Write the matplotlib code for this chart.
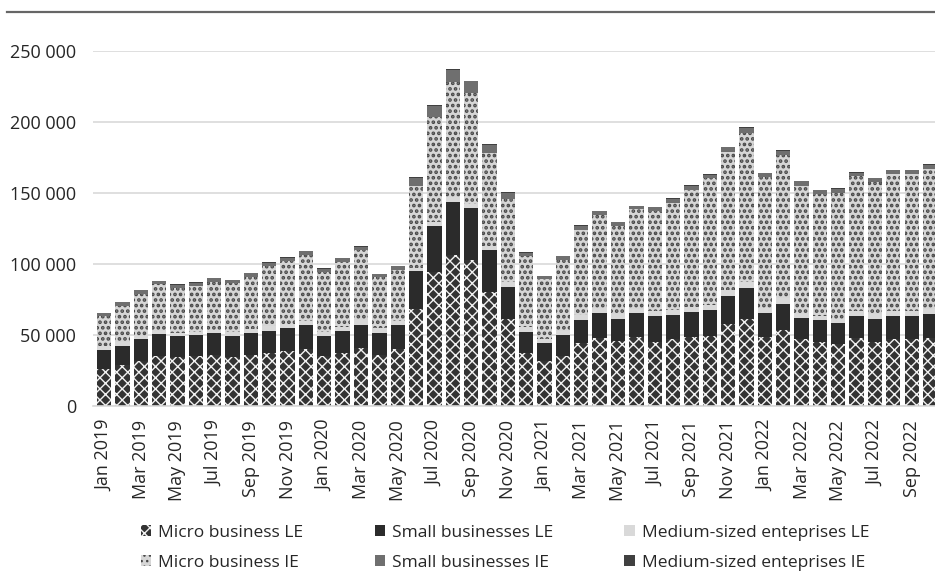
import numpy as np
import pandas as pd
import matplotlib
matplotlib.use("Agg")
import matplotlib.pyplot as plt
from matplotlib.lines import Line2D

plt.rcParams['font.family'] = ['Open Sans', 'DejaVu Sans']
plt.rcParams['hatch.linewidth'] = 1.0

# months Jan 2019 .. Oct 2022
months = [d.strftime('%b %Y') for d in pd.date_range('2019-01-01', '2022-10-01', freq='MS')]

micro_le = [26300, 28600, 31700, 35000, 34300, 35200, 36100, 34300, 35700, 37600, 38700, 39900,
            35000, 37600, 41100, 36100, 39800, 68400, 94400, 105900, 102600, 80100, 61400, 37500,
            31400, 35100, 44000, 47800, 45400, 48500, 45200, 46800, 48500, 49200, 57400, 61400,
            48500, 53200, 46800, 45200, 43800, 47800, 45200, 46800, 46800, 48000]
small_le = [12900, 13900, 15200, 15500, 15000, 14800, 15100, 15200, 15900, 15400, 16000, 16900,
            14300, 15200, 16200, 15500, 17100, 26500, 32100, 37400, 36300, 29300, 22400, 14700,
            12600, 14600, 16200, 17800, 16000, 17100, 18000, 17100, 17800, 18500, 19900, 21300,
            16800, 18500, 15000, 15000, 14500, 15400, 16200, 16200, 16200, 16600]
medium_le = [3000, 2500, 2400, 2300, 2300, 2300, 2300, 2600, 2900, 3300, 3300, 3000,
             2800, 3100, 3000, 3100, 2800, 2300, 2800, 3800, 3500, 3000, 3300, 3500,
             2800, 3000, 3500, 3500, 3000, 2800, 3500, 3500, 3500, 3300, 4000, 4400,
             3300, 3900, 3100, 3000, 3100, 3300, 3200, 3500, 3500, 3300]
micro_ie = [21200, 25400, 29800, 32900, 31700, 32200, 33800, 34300, 36300, 42300, 44100, 46300,
            42200, 45700, 49500, 35700, 35600, 57400, 74000, 80500, 77700, 65600, 58600, 49700,
            42700, 50300, 60400, 64900, 62100, 69800, 70300, 75500, 82400, 89000, 97200, 104900,
            92300, 101200, 90100, 86000, 88500, 95100, 92800, 96700, 96700, 99100]
small_ie = [2100, 2400, 2300, 2100, 2100, 2300, 2400, 2100, 2400, 2300, 2100, 2600,
            2200, 2400, 2200, 2100, 3100, 5800, 8000, 8900, 8200, 5800, 4200, 2300,
            1800, 2200, 2800, 2800, 2800, 2300, 2800, 2800, 2600, 2500, 3500, 3600,
            3000, 2800, 2900, 2600, 2800, 2600, 2600, 2600, 2600, 2800]
medium_ie = [200, 200, 200, 200, 200, 200, 200, 200, 200, 250, 250, 250,
             250, 250, 250, 200, 250, 400, 500, 600, 550, 400, 300, 250,
             200, 250, 300, 300, 300, 300, 300, 300, 300, 300, 350, 400,
             300, 350, 300, 300, 300, 300, 300, 300, 300, 300]

series = [
    ('Micro business LE', micro_le, dict(color='#333333', edgecolor='#f2f2f2', hatch='xxx')),
    ('Small businesses LE', small_le, dict(color='#2b2b2b', edgecolor='#2b2b2b')),
    ('Medium-sized enteprises LE', medium_le, dict(color='#d9d9d9', edgecolor='#d9d9d9')),
    ('Micro business IE', micro_ie, dict(color='#d6d6d6', edgecolor='#474747', hatch='...')),
    ('Small businesses IE', small_ie, dict(color='#6f6f6f', edgecolor='#6f6f6f')),
    ('Medium-sized enteprises IE', medium_ie, dict(color='#404040', edgecolor='#404040')),
]

fig = plt.figure(figsize=(9.35, 5.75), dpi=100)
ax = fig.add_axes([93/935, 1-406/575, 1-93/935, (406-50.5)/575])

x = np.arange(len(months))
bottom = np.zeros(len(months))
handles = []
for name, vals, style in series:
    vals = np.array(vals, dtype=float)
    b = ax.bar(x, vals, 0.78, bottom=bottom, label=name, linewidth=0, **style)
    if style.get('hatch') == '...':
        # bigger dots for the micro IE texture
        for p in b.patches:
            p.set_hatch_linewidth(1.8)
    handles.append(b)
    bottom += vals

ax.set_ylim(0, 250000)
ax.set_xlim(-0.6, 45.27)
ax.set_yticks(np.arange(0, 250001, 50000))
ax.set_yticklabels(['{:,}'.format(v).replace(',', ' ') for v in range(0, 250001, 50000)])
ax.set_xticks(x[::2])
ax.set_xticklabels(months[::2], rotation=90)
ax.tick_params(axis='y', length=0, pad=12, labelsize=13, labelcolor='#262626')
ax.tick_params(axis='x', length=0, pad=10, labelsize=13, labelcolor='#262626')
ax.yaxis.grid(True, color='#d9d9d9', linewidth=1.2)
ax.set_axisbelow(True)
for s in ['top', 'right', 'left']:
    ax.spines[s].set_visible(False)
ax.spines['bottom'].set_color('#d9d9d9')
ax.spines['bottom'].set_linewidth(1.2)

# legend: row-wise order in a 3 column layout
order = [0, 3, 1, 4, 2, 5]
leg = fig.legend([handles[i] for i in order], [series[i][0] for i in order],
                 loc='center', bbox_to_anchor=(505/935, 1-548/575), ncol=3, frameon=False,
                 fontsize=12.5, handlelength=0.6, handleheight=0.6, handletextpad=0.4,
                 columnspacing=4.1, labelspacing=0.8, labelcolor='#262626')

# top border line
fig.add_artist(Line2D([7/935, 1], [1-12/575, 1-12/575], color='#666666', linewidth=1.6))

plt.savefig('out.png', dpi=100)
